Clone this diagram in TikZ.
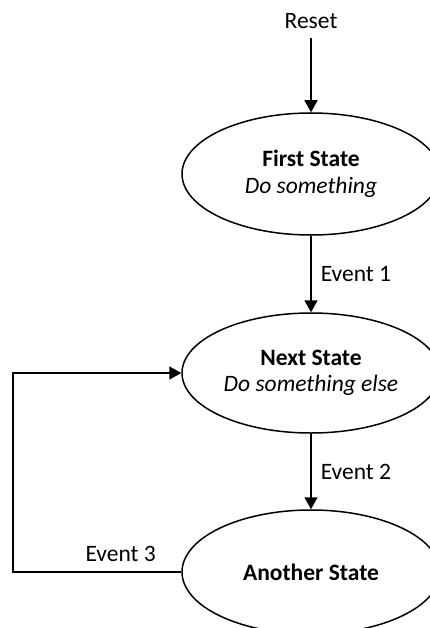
\documentclass[tikz,border=0pt]{standalone}
\usepackage{fontspec}
\setmainfont{Carlito}
\usetikzlibrary{arrows.meta,shapes.geometric}
\begin{document}
\begin{tikzpicture}[x=1pt,y=-1pt,
  font=\fontsize{23.5}{26.5}\selectfont,
  state/.style={ellipse,draw,line width=1.5pt,minimum width=258pt,inner sep=0pt,align=center},
  flow/.style={line width=1.5pt,-{Triangle[width=13pt,length=12pt]}},
  lbl/.style={inner sep=0pt}]
  \useasboundingbox (0,0) rectangle (430,628);
  \clip (0,0) rectangle (430,628);
  \fill[white] (0,0) rectangle (430,628);

  % states
  \node[lbl] (reset) at (311,21.5) {Reset};
  \node[state,minimum height=122pt] (first) at (311,174)
    {\textbf{First State}\\\textit{Do something}};
  \node[state,minimum height=120pt] (next) at (311,373)
    {\textbf{Next State}\\\textit{Do something else}};
  \node[state,minimum height=124pt] (another) at (311,572)
    {\textbf{Another State}};
  \coordinate (corner) at (13,572);

  % transitions
  \draw[flow,shorten <=9pt] (reset.south) -- (first.north);
  \draw[flow] (first.south) -- node[lbl,right,xshift=9pt] {Event 1} (next.north);
  \draw[flow] (next.south) -- node[lbl,right,xshift=9pt] {Event 2} (another.north);
  \draw[flow] (another.west) -- node[lbl,above,pos=0.36,yshift=10pt] {Event 3} (corner) |- (next.west);
\end{tikzpicture}
\end{document}
